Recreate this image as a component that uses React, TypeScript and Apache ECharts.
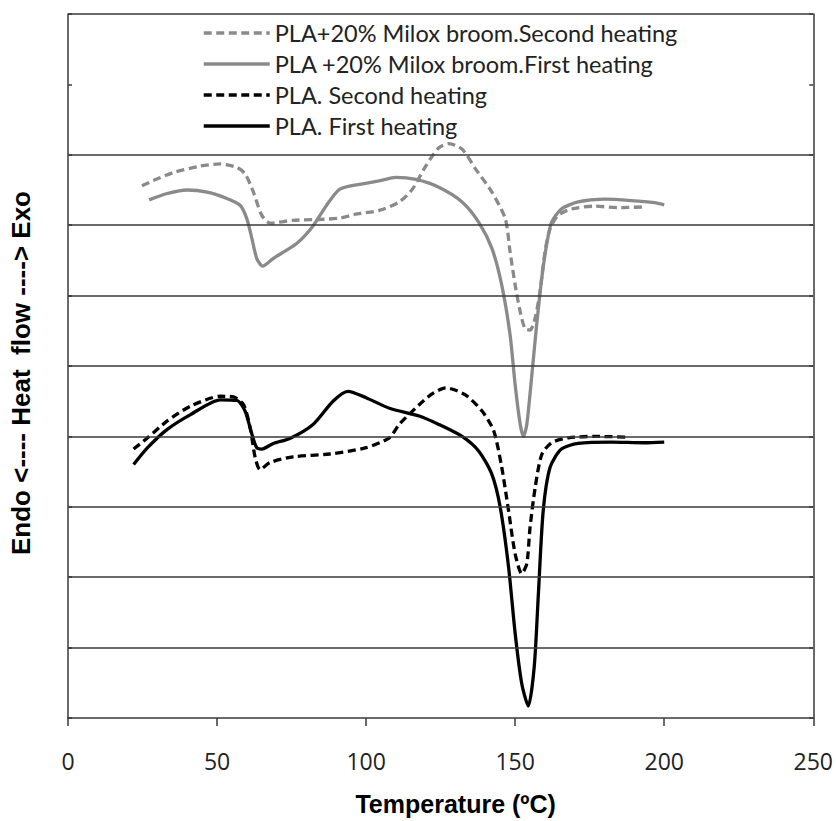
import React, { useEffect, useRef } from "react";
import * as echarts from "echarts";

// PLA + 20% Milox broom, second heating (gray dashed)
const compSecondT = [24.8, 30, 35.5, 44.4, 51.1, 56.7, 59.4, 62.2, 65.0, 67.8, 75.5, 83.3, 91.1, 97, 104.4, 111.1, 115.5, 120, 124.4, 127.8, 132.2, 136.7, 142.2, 146.7, 148.3, 150, 151.7, 153.3, 155, 156.7, 158.3, 160, 161.7, 164.4, 168.9, 176.7, 184.4, 193.3];
const compSecondV = [7.56, 7.66, 7.75, 7.84, 7.87, 7.82, 7.73, 7.47, 7.14, 7.03, 7.07, 7.08, 7.10, 7.16, 7.21, 7.33, 7.51, 7.84, 8.10, 8.16, 8.08, 7.80, 7.47, 7.09, 6.62, 6.15, 5.77, 5.53, 5.51, 5.68, 6.05, 6.62, 6.95, 7.14, 7.23, 7.27, 7.25, 7.26];

// PLA + 20% Milox broom, first heating (gray solid)
const compFirstT = [27.2, 33.3, 40, 46.7, 53.3, 57.8, 60, 61.7, 63.3, 65.3, 68.9, 76.7, 82.2, 86.7, 91.1, 97.8, 104.4, 110, 116.7, 124.4, 132.2, 137.8, 142.2, 145.5, 148.3, 150, 151.7, 152.8, 153.9, 155.5, 157.2, 158.9, 160.5, 162.2, 165.5, 171.1, 180, 188.9, 196.7, 200];
const compFirstV = [7.36, 7.45, 7.50, 7.47, 7.38, 7.28, 7.09, 6.81, 6.53, 6.42, 6.53, 6.74, 6.99, 7.28, 7.51, 7.58, 7.63, 7.68, 7.65, 7.54, 7.33, 7.04, 6.67, 6.15, 5.44, 4.73, 4.17, 4.00, 4.17, 4.83, 5.58, 6.24, 6.71, 7.04, 7.23, 7.33, 7.37, 7.35, 7.32, 7.29];

// PLA, second heating (black dashed)
const plaSecondT = [22, 26.7, 33.3, 41.1, 51.1, 55.5, 58.9, 61.1, 62.8, 64.4, 67.8, 75.5, 87.8, 100, 107.8, 111.1, 117.8, 122, 126.7, 133.3, 138.9, 142.8, 145.5, 147.8, 150, 152.2, 153.9, 155, 156.7, 158.9, 162.2, 167.8, 176.7, 187.8];
const plaSecondV = [3.82, 3.98, 4.22, 4.43, 4.57, 4.56, 4.45, 4.12, 3.70, 3.53, 3.63, 3.71, 3.75, 3.84, 3.98, 4.17, 4.45, 4.60, 4.69, 4.59, 4.36, 4.08, 3.56, 2.94, 2.33, 2.05, 2.19, 2.71, 3.27, 3.74, 3.91, 3.98, 4.00, 3.99];

// PLA, first heating (black solid)
const plaFirstT = [22, 26.7, 33.3, 41.1, 51.1, 56.7, 59.4, 61.7, 63.3, 65, 68.9, 74.4, 82.2, 88.9, 93.9, 100, 107.8, 117.8, 124.4, 132.2, 137.8, 142.2, 145, 147.8, 150, 152.2, 154.4, 156.4, 157.8, 159.4, 161.7, 165.5, 171.1, 182.2, 193.3, 200];
const plaFirstV = [3.60, 3.84, 4.10, 4.31, 4.52, 4.51, 4.36, 4.03, 3.84, 3.82, 3.90, 3.97, 4.17, 4.50, 4.64, 4.55, 4.40, 4.29, 4.17, 4.00, 3.79, 3.46, 2.99, 2.14, 1.20, 0.49, 0.17, 0.73, 1.77, 2.94, 3.56, 3.82, 3.90, 3.92, 3.91, 3.92];

const seriesNames = [
  "PLA+20% Milox broom.Second heating",
  "PLA +20% Milox broom.First heating",
  "PLA. Second heating",
  "PLA. First heating",
];

// horizontal gridlines (the one at 9 is hidden behind the legend)
const gridLevels = [1, 2, 3, 4, 5, 6, 7, 8, 10];

const zip = (t: number[], v: number[]) => t.map((x, i) => [x, v[i]]);

export default function App() {
  const ref = useRef<HTMLDivElement>(null);
  useEffect(() => {
    if (!ref.current) return;
    const chart = echarts.init(ref.current, null, { renderer: "svg" });
    const gray = "#8a8a8a";
    const black = "#000000";
    const gridColor = "#3a3a3a";
    const mk = (name: string, data: number[][], color: string, dashed: boolean, z: number) => ({
      name,
      type: "line",
      data,
      symbol: "none",
      smooth: 0.25,
      z,
      lineStyle: { color, width: 3.3, type: dashed ? [8, 4.5] : "solid" },
      itemStyle: { color },
    });
    chart.setOption({
      animation: false,
      backgroundColor: "#ffffff",
      grid: { left: 67, right: 19, top: 14, bottom: 99, containLabel: false },
      legend: {
        orient: "vertical",
        left: 202,
        top: 21,
        padding: 0,
        itemWidth: 66,
        itemHeight: 14,
        itemGap: 7,
        data: seriesNames,
        itemStyle: { opacity: 0 },
        lineStyle: { width: 3.5 },
        textStyle: { fontFamily: "Lato", fontSize: 23.5, color: "#222", lineHeight: 24 },
      },
      xAxis: {
        type: "value",
        min: 0,
        max: 250,
        interval: 50,
        axisLine: { show: true, lineStyle: { color: gridColor, width: 1.5 } },
        axisTick: { show: true, length: 8, lineStyle: { color: gridColor, width: 1.5 } },
        axisLabel: { fontFamily: "Open Sans", fontSize: 23, color: "#222", margin: 31 },
        splitLine: { show: false },
        name: "Temperature (ºC)",
        nameLocation: "middle",
        nameGap: 73,
        nameTextStyle: { fontFamily: "Liberation Sans", fontWeight: "bold", fontSize: 25, color: "#000", padding: [0, 0, 0, 30] },
      },
      yAxis: [
        {
          type: "value",
          min: 0,
          max: 10,
          interval: 1,
          position: "left",
          axisLine: { show: true, lineStyle: { color: gridColor, width: 1.5 } },
          axisTick: { show: true, inside: true, length: 4, lineStyle: { color: gridColor, width: 1.5 } },
          axisLabel: { show: false },
          splitLine: { show: false },
          name: "Endo <---- Heat  flow ----> Exo",
          nameLocation: "middle",
          nameGap: 34,
          nameTextStyle: { fontFamily: "Liberation Sans", fontWeight: "bold", fontSize: 26, color: "#000", padding: [0, 14, 0, 0] },
        },
        {
          type: "value",
          min: 0,
          max: 10,
          interval: 1,
          position: "right",
          axisLine: { show: true, lineStyle: { color: gridColor, width: 1.5 } },
          axisTick: { show: true, inside: true, length: 4, lineStyle: { color: gridColor, width: 1.5 } },
          axisLabel: { show: false },
          splitLine: { show: false },
        },
      ],
      series: [
        {
          name: "__grid",
          type: "line",
          data: [],
          z: 1,
          silent: true,
          markLine: {
            silent: true,
            symbol: ["none", "none"],
            label: { show: false },
            lineStyle: { color: gridColor, width: 1.5, type: "solid" },
            data: gridLevels.map((v) => ({ yAxis: v })),
          },
        },
        mk(seriesNames[0], zip(compSecondT, compSecondV), gray, true, 3),
        mk(seriesNames[1], zip(compFirstT, compFirstV), gray, false, 3),
        mk(seriesNames[2], zip(plaSecondT, plaSecondV), black, true, 4),
        mk(seriesNames[3], zip(plaFirstT, plaFirstV), black, false, 4),
      ],
    });
    return () => chart.dispose();
  }, []);
  return <div ref={ref} style={{ position: "absolute", left: 0, top: 0, width: 836, height: 821 }} />;
}
